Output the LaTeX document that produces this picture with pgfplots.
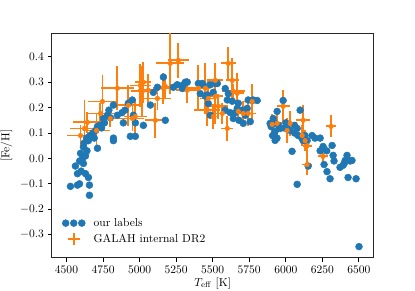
\documentclass[border=0pt]{standalone}
\usepackage{pgfplots}
\usepackage{pgfplotstable}
\pgfplotsset{compat=1.18}
\definecolor{tabblue}{HTML}{1F77B4}
\definecolor{taborange}{HTML}{FF7F0E}

\pgfplotstableread{
T F
4527 -0.11
4575 -0.105
4589 -0.10
4657 -0.105
4657 -0.145
4650 -0.075
4561 -0.03
4575 -0.06
4616 -0.02
4596 0.02
4616 0.045
4712 0.04
4821 0.07
4937 0.087
4971 0.087
4600 -0.05
4630 -0.06
4610 0.0
4630 0.01
4640 0.03
4590 -0.01
4620 0.06
4650 0.07
4660 0.09
4680 0.10
4700 0.11
4730 0.13
4760 0.14
4637 0.08
4712 0.126
4753 0.157
4780 0.17
4821 0.21
4848 0.17
4821 0.08
4889 0.14
4923 0.217
4950 0.23
4958 0.17
4971 0.14
5026 0.13
5074 0.21
5094 0.26
5122 0.28
5163 0.32
5176 0.15
5231 0.28
5293 0.275
5299 0.29
5326 0.30
4880 0.18
4900 0.19
4790 0.19
4800 0.16
4740 0.12
4690 0.08
5258 0.29
5313 0.30
5402 0.295
5436 0.29
5484 0.29
5532 0.295
5415 0.255
5450 0.245
5470 0.216
5504 0.26
5586 0.275
5607 0.255
5600 0.23
5634 0.225
5586 0.19
5620 0.18
5675 0.217
5702 0.19
5743 0.23
5777 0.23
5723 0.17
5654 0.18
5484 0.17
5429 0.295
5463 0.25
5518 0.295
5668 0.197
5736 0.197
5770 0.228
5804 0.228
5641 0.157
5709 0.138
5757 0.145
5680 0.15
5893 0.138
5914 0.157
5941 0.185
5982 0.228
5927 0.106
5962 0.118
5927 0.071
6009 0.118
6078 0.118
6098 0.19
6085 0.09
6132 0.09
6180 0.09
6235 0.08
6255 0.047
6317 0.051
6043 0.028
6078 -0.102
6146 0.07
6153 -0.03
6235 0.03
6262 -0.024
6282 -0.052
6303 -0.08
6324 0.012
6371 -0.035
6392 -0.027
6406 -0.008
6419 0.012
6453 -0.008
6426 -0.075
6481 -0.08
6501 -0.347
5900 0.125
5920 0.14
5950 0.13
5990 0.12
6030 0.11
6060 0.10
6110 0.08
6119 0.07
6200 0.08
6280 0.03
6330 -0.01
6400 -0.02
6440 -0.01
5910 0.09
5940 0.08
6000 0.14
6060 0.13
}\ourlabels

\pgfplotstableread{
T F ex ey
4623 0.118 102 0.11
4705 0.110 95 0.07
4596 0.090 95 0.04
4746 0.224 100 0.105
4732 0.177 90 0.04
4848 0.276 115 0.087
4923 0.209 80 0.08
4971 0.165 80 0.07
5108 0.150 70 0.07
5005 0.287 70 0.085
5019 0.264 80 0.10
5026 0.300 55 0.08
5122 0.236 90 0.045
5210 0.374 95 0.12
5265 0.386 70 0.07
5176 0.283 70 0.05
5402 0.276 70 0.09
5470 0.236 55 0.07
5518 0.307 55 0.07
5518 0.244 55 0.11
5450 0.276 35 0.10
5463 0.190 90 0.063
5607 0.374 50 0.063
5634 0.307 45 0.087
5668 0.256 45 0.08
5641 0.264 80 0.03
5600 0.118 40 0.05
5709 0.177 45 0.05
5770 0.224 60 0.07
5675 0.185 70 0.04
5566 0.177 40 0.04
5504 0.165 30 0.05
5982 0.205 45 0.063
5941 0.138 35 0.05
6030 0.138 45 0.05
6009 0.110 35 0.05
6119 0.150 50 0.06
6112 0.090 35 0.04
6132 0.070 35 0.04
6146 0.050 30 0.04
6310 0.126 35 0.043
6146 -0.024 35 0.04
6255 0.008 35 0.035
5907 0.134 35 0.04
4951 0.157 80 0.05
4800 0.157 70 0.035
4643 0.142 100 0.04
5163 0.276 70 0.06
5060 0.268 70 0.063
5326 0.268 80 0.05
5538 0.205 70 0.05
5743 0.177 55 0.05
}\galah

\begin{document}
\begin{tikzpicture}
\begin{axis}[
  scale only axis,
  width=279pt, height=194pt,
  xmin=4400, xmax=6600,
  ymin=-0.39, ymax=0.49,
  xtick={4500,4750,...,6500},
  ytick={-0.3,-0.2,...,0.41},
  xticklabel style={/pgf/number format/1000 sep={}},
  yticklabel style={/pgf/number format/.cd, fixed, fixed zerofill, precision=1},
  scaled x ticks=false,
  xtick pos=bottom, ytick pos=left,
  tick align=outside,
  major tick length=3.5pt,
  tick style={black, line width=0.8pt},
  axis line style={line width=0.8pt, black!85},
  xlabel={$T_{\mathrm{eff}}$ [K]},
  xlabel style={yshift=3pt},
  ylabel={[Fe/H]},
  legend cell align=left,
  legend style={draw=none, fill=none, at={(0.02,0.04)}, anchor=south west, row sep=1pt},
]
\addplot[only marks, mark=*, mark size=3pt, color=tabblue, mark options={draw=tabblue, fill=tabblue},
  legend image code/.code={
    \fill[tabblue] (0pt,0pt) circle (3pt);
    \fill[tabblue] (7pt,0pt) circle (3pt);
    \fill[tabblue] (14pt,0pt) circle (3pt);
    \path (22pt,0pt);}]
  table[x=T, y=F] {\ourlabels};
\addlegendentry{our labels}
\addplot[taborange, only marks, mark=none,
  error bars/.cd, x dir=both, x explicit, y dir=both, y explicit,
  error mark=none, error bar style={taborange, solid, line width=1.6pt},
  /pgfplots/legend image code/.code={
    \draw[taborange, line width=1.6pt] (2pt,0pt) -- (12pt,0pt) (7pt,-5pt) -- (7pt,5pt);
    \path (22pt,0pt);}]
  table[x=T, y=F, x error=ex, y error=ey] {\galah};
\addlegendentry{GALAH internal DR2}
\end{axis}
\pgfresetboundingbox
\path[use as bounding box] (current axis.south west) ++(-45pt,-28.6pt) rectangle ++(360pt,252pt);
\end{tikzpicture}
\end{document}
